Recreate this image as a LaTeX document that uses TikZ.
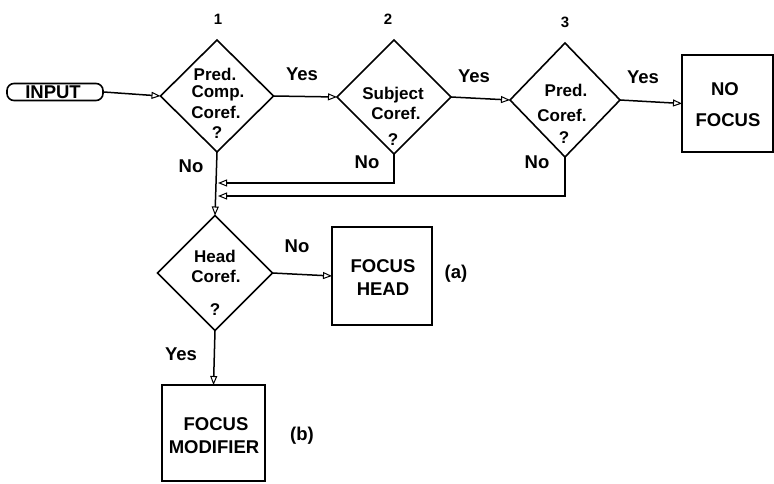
\documentclass[tikz,border=0pt]{standalone}
\usepackage{fontspec}
\setmainfont{Liberation Sans}
\usetikzlibrary{shapes.geometric,arrows.meta}
\begin{document}
\begin{tikzpicture}[x=1pt,y=-1pt,
  dia/.style={draw,diamond,line width=1.6pt,inner sep=0pt,outer sep=0pt},
  bx/.style={draw,rectangle,line width=1.6pt,inner sep=0pt,outer sep=0pt},
  dtxt/.style={font=\fontsize{17}{19}\selectfont\bfseries,anchor=base,inner sep=0pt},
  btxt/.style={font=\fontsize{18.5}{20}\selectfont\bfseries,anchor=base,inner sep=0pt},
  lbl/.style={font=\fontsize{18.5}{20}\selectfont\bfseries,anchor=base,inner sep=0pt},
  num/.style={font=\fontsize{15}{17}\selectfont\bfseries,anchor=base,inner sep=0pt},
  conn/.style={line width=1.5pt,-{Triangle[open,length=9pt,width=7pt,line width=1pt]}}]
\useasboundingbox (0,0) rectangle (774,483);
% shapes
\node[draw,rectangle,rounded corners=7pt,line width=1.6pt,minimum width=96pt,minimum height=17pt,inner sep=0pt] (in) at (55,92) {};
\node[btxt] (intxt) at (53,98) {INPUT};
\node[dia,minimum width=113pt,minimum height=112pt] (d1) at (217,96) {};
\node[dia,minimum width=114pt,minimum height=114pt] (d2) at (394,97) {};
\node[dia,minimum width=110pt,minimum height=114pt] (d3) at (565,100) {};
\node[bx,minimum width=91pt,minimum height=97pt] (nf) at (727.5,103.5) {};
\node[dia,minimum width=115pt,minimum height=115pt] (hd) at (215,273) {};
\node[bx,minimum width=100pt,minimum height=98pt] (fh) at (382,276) {};
\node[bx,minimum width=103pt,minimum height=96pt] (fm) at (213.5,433) {};
% numbers
\node[num] (n1) at (218,24) {1};
\node[num] (n2) at (388,24) {2};
\node[num] (n3) at (565,27) {3};
% diamond texts
\node[dtxt] (t1a) at (215,80) {Pred.};
\node[dtxt] (t1b) at (218,97.5) {Comp.};
\node[dtxt] (t1c) at (216,118) {Coref.};
\node[dtxt] (t1d) at (217,138) {?};
\node[dtxt] (t2a) at (393,99) {Subject};
\node[dtxt] (t2b) at (396,119) {Coref.};
\node[dtxt] (t2c) at (393,145) {?};
\node[dtxt] (t3a) at (566,96) {Pred.};
\node[dtxt] (t3b) at (562,121) {Coref.};
\node[dtxt] (t3c) at (564,143) {?};
\node[dtxt] (t4a) at (215,262) {Head};
\node[dtxt] (t4b) at (216,282) {Coref.};
\node[dtxt] (t4c) at (215,315) {?};
% box texts
\node[btxt] (nfa) at (725,95) {NO};
\node[btxt] (nfb) at (728,126) {FOCUS};
\node[btxt] (fha) at (383,272) {FOCUS};
\node[btxt] (fhb) at (383,295) {HEAD};
\node[btxt] (fma) at (216,430) {FOCUS};
\node[btxt] (fmb) at (214,453) {MODIFIER};
% edge labels
\node[lbl] (y1) at (302,80) {Yes};
\node[lbl] (y2) at (474,82) {Yes};
\node[lbl] (y3) at (643,83) {Yes};
\node[lbl] (no1) at (191,172) {No};
\node[lbl] (no2) at (367,168) {No};
\node[lbl] (no3) at (537,168) {No};
\node[lbl] (no4) at (297,252) {No};
\node[lbl] (y4) at (181,360) {Yes};
\node[lbl,anchor=center] (la) at (456,274) {(a)};
\node[lbl,anchor=center] (lb) at (302,436) {(b)};
% connectors
\coordinate (j1) at (218,183);
\coordinate (j2) at (218,196);
\draw[conn] (in.east) -- (d1.west);
\draw[conn] (d1.east) -- (d2.west);
\draw[conn] (d2.east) -- (d3.west);
\draw[conn] (d3.east) -- (nf.west);
\draw[conn] (d1.south) -- (hd.north);
\draw[conn] (d2.south) |- (j1);
\draw[conn] (d3.south) |- (j2);
\draw[conn] (hd.east) -- (fh.west);
\draw[conn] (hd.south) -- (fm.north);
\end{tikzpicture}
\end{document}
